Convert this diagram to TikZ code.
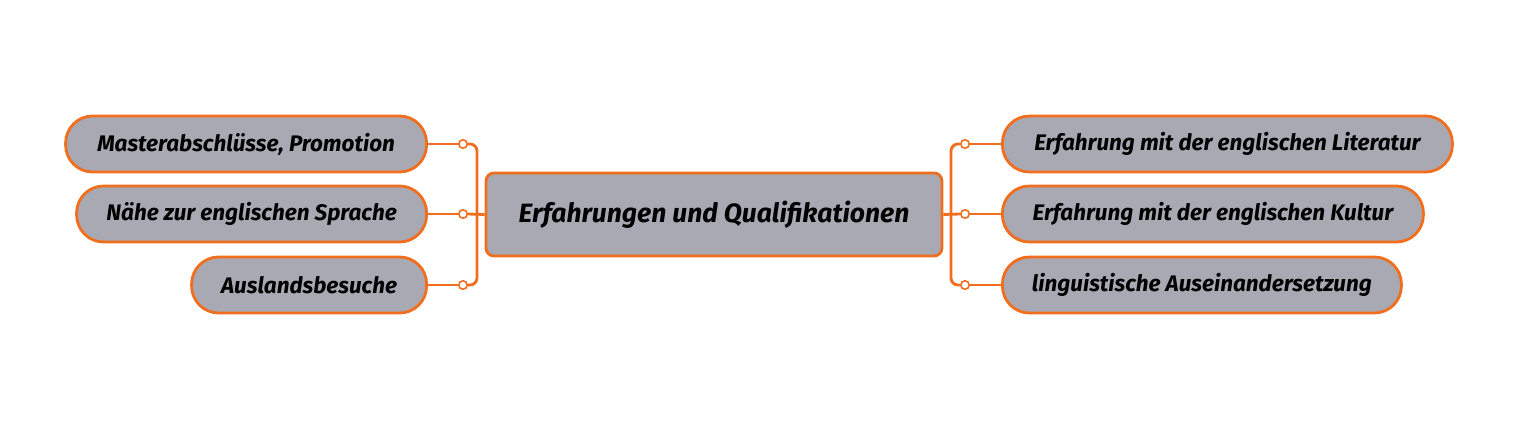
\documentclass[tikz,border=0pt]{standalone}
\usepackage{fontspec}
\setmainfont{Fira Sans}
\usetikzlibrary{positioning}

\definecolor{qorange}{RGB}{240,110,30}
\definecolor{qgray}{RGB}{169,169,179}

\begin{document}
\begin{tikzpicture}[
    x=1pt, y=-1pt,
    leaf/.style={
        rectangle,
        draw=qorange,
        fill=qgray,
        line width=2.8pt,
        rounded corners=27pt,
        minimum height=56pt,
        inner sep=0pt,
        align=center,
        font=\fontsize{22.5}{26}\selectfont\bfseries\itshape
    },
    hub/.style={
        rectangle,
        draw=qorange,
        fill=qgray,
        line width=2.8pt,
        rounded corners=8pt,
        minimum width=456pt,
        minimum height=83pt,
        align=center,
        font=\fontsize{26.5}{30}\selectfont\bfseries\itshape
    },
    knob/.style={
        circle,
        draw=qorange,
        fill=white,
        line width=1.6pt,
        inner sep=0pt,
        minimum size=8.5pt
    },
    link/.style={draw=qorange, line width=2.8pt}
]
\useasboundingbox (0,0) rectangle (1532,424);

% center
\node[hub] (qual) at (714,214.5) {Erfahrungen und Qualifikationen};

% left side
\node[leaf, minimum width=361pt, anchor=east] (master) at (428,144) {Masterabschlüsse, Promotion};
\node[leaf, minimum width=350pt, anchor=east] (naehe) at (428,214) {Nähe zur englischen Sprache};
\node[leaf, minimum width=235pt, anchor=east] (ausland) at (428,285) {Auslandsbesuche};

% right side
\node[leaf, minimum width=450pt, anchor=west] (literatur) at (1001,144) {Erfahrung mit der englischen Literatur};
\node[leaf, minimum width=421pt, anchor=west] (kultur) at (1001,214) {Erfahrung mit der englischen Kultur};
\node[leaf, minimum width=399pt, anchor=west] (linguistik) at (1001,285) {linguistische Auseinandersetzung};

% buses
\coordinate (busL) at (477,214);
\coordinate (busR) at (951,214);

\node[knob] (kL1) at (463,144) {};
\node[knob] (kL2) at (463,214) {};
\node[knob] (kL3) at (463,285) {};
\node[knob] (kR1) at (965,144) {};
\node[knob] (kR2) at (965,214) {};
\node[knob] (kR3) at (965,285) {};

\begin{scope}[on background layer/.try]
\draw[link] (master.east) -- (kL1);
\draw[link] (naehe.east) -- (kL2);
\draw[link] (ausland.east) -- (kL3);
\draw[link, rounded corners=7pt] (kL1.east) -| (busL) |- (kL3.east);
\draw[link] (kL2.east) -- (qual.west);

\draw[link] (literatur.west) -- (kR1);
\draw[link] (kultur.west) -- (kR2);
\draw[link] (linguistik.west) -- (kR3);
\draw[link, rounded corners=7pt] (kR1.west) -| (busR) |- (kR3.west);
\draw[link] (kR2.west) -- (qual.east);
\end{scope}

\end{tikzpicture}
\end{document}
